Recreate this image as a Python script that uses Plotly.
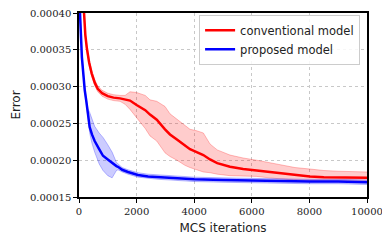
import plotly.graph_objects as go

# conventional model (red)
conv_x = [100, 170, 220, 270, 350, 440, 550, 650, 800, 1000, 1200, 1424, 1600, 1771, 2000, 2300, 2465, 2700, 2986, 3160, 3400, 3680, 3854, 4086, 4317, 4549, 4800, 5243, 5700, 6169, 6600, 7095, 7500, 8021, 8500, 9000, 9500, 10000]
conv_y = [0.000450, 0.000400, 0.000370, 0.000353, 0.000333, 0.000318, 0.000305, 0.000297, 0.000291, 0.000287, 0.000285, 0.000284, 0.000282, 0.000281, 0.000275, 0.000268, 0.000262, 0.000255, 0.000242, 0.000235, 0.000228, 0.000220, 0.000215, 0.000211, 0.000207, 0.000201, 0.000196, 0.000191, 0.000188, 0.000186, 0.000184, 0.000182, 0.000180, 0.000178, 0.000177, 0.000177, 0.000176, 0.000176]
conv_hi = [0.000454, 0.000404, 0.000374, 0.000357, 0.000337, 0.000322, 0.000309, 0.000301, 0.000295, 0.000291, 0.000289, 0.000288, 0.000288, 0.000293, 0.000292, 0.000288, 0.000282, 0.000280, 0.000273, 0.000263, 0.000256, 0.000247, 0.000242, 0.000240, 0.000237, 0.000222, 0.000214, 0.000207, 0.000203, 0.000200, 0.000197, 0.000193, 0.000190, 0.000188, 0.000186, 0.000185, 0.000184, 0.000184]
conv_lo = [0.000446, 0.000396, 0.000366, 0.000349, 0.000329, 0.000314, 0.000301, 0.000293, 0.000287, 0.000283, 0.000281, 0.000280, 0.000276, 0.000269, 0.000258, 0.000243, 0.000233, 0.000226, 0.000210, 0.000205, 0.000200, 0.000193, 0.000190, 0.000187, 0.000184, 0.000183, 0.000181, 0.000179, 0.000178, 0.000178, 0.000176, 0.000174, 0.000173, 0.000172, 0.000171, 0.000171, 0.000170, 0.000170]

# proposed model (blue)
prop_x = [0, 35, 100, 150, 200, 255, 310, 370, 450, 544, 700, 833, 1000, 1150, 1300, 1354, 1500, 1700, 2049, 2400, 2755, 3200, 4000, 5000, 6000, 7000, 8000, 9000, 10000]
prop_y = [0.000480, 0.000400, 0.000340, 0.000315, 0.000295, 0.000280, 0.000260, 0.000245, 0.000235, 0.000226, 0.000215, 0.000206, 0.000201, 0.000196, 0.000192, 0.000191, 0.000187, 0.000184, 0.000180, 0.000178, 0.000177, 0.000176, 0.000174, 0.000173, 0.000172, 0.000172, 0.000171, 0.000171, 0.000170]
prop_hi = [0.000483, 0.000403, 0.000343, 0.000318, 0.000298, 0.000283, 0.000270, 0.000265, 0.000255, 0.000246, 0.000237, 0.000231, 0.000221, 0.000211, 0.000197, 0.000195, 0.000190, 0.000187, 0.000183, 0.000181, 0.000180, 0.000179, 0.000177, 0.000176, 0.000175, 0.000175, 0.000174, 0.000174, 0.000173]
prop_lo = [0.000477, 0.000397, 0.000337, 0.000312, 0.000292, 0.000277, 0.000256, 0.000237, 0.000223, 0.000211, 0.000195, 0.000186, 0.000179, 0.000176, 0.000186, 0.000187, 0.000184, 0.000181, 0.000177, 0.000175, 0.000174, 0.000173, 0.000171, 0.000170, 0.000169, 0.000169, 0.000168, 0.000168, 0.000167]

x_ticks = [0, 2000, 4000, 6000, 8000, 10000]
y_ticks = [0.00015, 0.00020, 0.00025, 0.00030, 0.00035, 0.00040]

fig = go.Figure()

def band(x, hi, lo, edge, fill):
    fig.add_trace(go.Scatter(x=x, y=hi, mode="lines", line=dict(color=edge, width=1),
                             showlegend=False, hoverinfo="skip"))
    fig.add_trace(go.Scatter(x=x, y=lo, mode="lines", line=dict(color=edge, width=1),
                             fill="tonexty", fillcolor=fill, showlegend=False, hoverinfo="skip"))

band(conv_x, conv_hi, conv_lo, "rgba(255,0,0,0.25)", "rgba(255,0,0,0.2)")
band(prop_x, prop_hi, prop_lo, "rgba(0,0,255,0.25)", "rgba(0,0,255,0.2)")

fig.add_trace(go.Scatter(x=conv_x, y=conv_y, mode="lines", name="conventional model",
                         line=dict(color="#ff0000", width=2.5)))
fig.add_trace(go.Scatter(x=prop_x, y=prop_y, mode="lines", name="proposed model",
                         line=dict(color="#0000ff", width=2.5)))

axis_common = dict(
    showline=True, linecolor="black", linewidth=1.5, mirror=True,
    ticks="outside", ticklen=4, tickcolor="black", tickwidth=1.2,
    showgrid=True, gridcolor="#c8c8c8", griddash="dot", gridwidth=1,
    zeroline=False, automargin=False, ticklabeloverflow="allow",
    tickfont=dict(family="DejaVu Serif", size=10, color="#222"),
)

fig.update_xaxes(range=[0, 10000], tickvals=x_ticks, ticktext=[str(v) for v in x_ticks],
                 title=dict(text="MCS iterations", font=dict(family="DejaVu Sans", size=12, color="#222"), standoff=8),
                 **axis_common)
fig.update_yaxes(range=[0.00015, 0.00040], tickvals=y_ticks, ticktext=[f"{v:.5f}" for v in y_ticks],
                 title=dict(text="Error", font=dict(family="DejaVu Sans", size=12, color="#222"), standoff=7),
                 **axis_common)

# page body has an 8px default margin, so the figure is sized/placed to compensate
fig.update_layout(
    width=382, height=236,
    margin=dict(l=71, r=23, t=5, b=47),
    plot_bgcolor="white", paper_bgcolor="white",
    legend=dict(x=0.976, y=0.99, xanchor="right", yanchor="top",
                bgcolor="rgba(255,255,255,0.85)", bordercolor="#cccccc", borderwidth=1,
                font=dict(family="DejaVu Sans", size=11.5, color="#222"),
                traceorder="normal", tracegroupgap=0, itemwidth=30),
    showlegend=True,
)

fig.write_html("out.html")
